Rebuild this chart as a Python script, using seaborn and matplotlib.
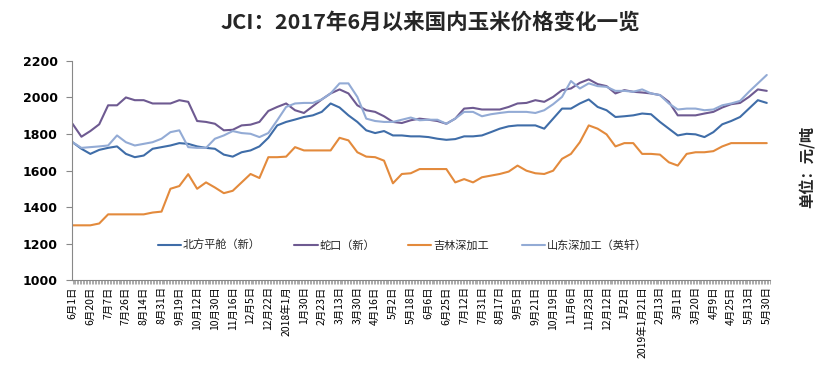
import pandas as pd
import seaborn as sns
import matplotlib.pyplot as plt
from matplotlib.ticker import MultipleLocator

# trading-day index, one sample every 6 trading days (6/1/2017 .. 5/30/2019)
day_idx = list(range(0, 469, 6))

beifang = [1755, 1719, 1691, 1713, 1724, 1732, 1691, 1673, 1682, 1719, 1728, 1737, 1750, 1746, 1732, 1724,
           1719, 1687, 1676, 1700, 1710, 1732, 1779, 1847, 1866, 1879, 1893, 1902, 1921, 1967, 1945,
           1902, 1866, 1820, 1805, 1816, 1792, 1792, 1787, 1787, 1783, 1774, 1768, 1772, 1787, 1787, 1792,
           1810, 1829, 1842, 1847, 1847, 1847, 1829, 1884, 1939, 1939, 1967, 1989, 1948, 1930, 1893, 1897,
           1902, 1912, 1908, 1866, 1829, 1792, 1801, 1798, 1783, 1810, 1853, 1871, 1893, 1939, 1985, 1970]

shekou = [1856, 1785, 1816, 1853, 1957, 1957, 2000, 1985, 1985, 1967, 1967, 1967, 1985, 1976, 1871, 1866,
          1856, 1820, 1823, 1847, 1851, 1866, 1926, 1948, 1967, 1930, 1915, 1952, 1989, 2022, 2044,
          2022, 1957, 1930, 1921, 1897, 1866, 1860, 1875, 1884, 1878, 1871, 1856, 1884, 1939, 1943, 1934,
          1934, 1934, 1948, 1967, 1970, 1985, 1976, 2003, 2040, 2049, 2080, 2099, 2073, 2062, 2022, 2040,
          2031, 2027, 2022, 2013, 1976, 1902, 1902, 1902, 1912, 1921, 1945, 1963, 1970, 2003, 2044, 2036]

jilin = [1300, 1300, 1300, 1310, 1360, 1360, 1360, 1360, 1360, 1370, 1375, 1500, 1515, 1580, 1500, 1535,
         1507, 1476, 1489, 1535, 1581, 1559, 1673, 1673, 1676, 1728, 1710, 1710, 1710, 1710, 1779,
         1765, 1700, 1676, 1673, 1654, 1530, 1581, 1585, 1608, 1608, 1608, 1608, 1535, 1553, 1535, 1563,
         1572, 1581, 1594, 1627, 1599, 1585, 1581, 1599, 1664, 1691, 1755, 1847, 1829, 1798, 1732, 1750,
         1750, 1691, 1691, 1687, 1645, 1627, 1691, 1700, 1700, 1706, 1732, 1750, 1750, 1750, 1750, 1750]

shandong = [1755, 1724, 1728, 1732, 1737, 1792, 1755, 1737, 1746, 1755, 1774, 1810, 1820, 1728, 1724, 1724,
            1774, 1792, 1816, 1805, 1801, 1783, 1805, 1875, 1948, 1967, 1970, 1970, 1989, 2022, 2077,
            2077, 2003, 1884, 1871, 1866, 1866, 1878, 1890, 1875, 1878, 1878, 1856, 1884, 1921, 1921, 1897,
            1908, 1915, 1921, 1921, 1921, 1915, 1930, 1963, 2003, 2090, 2049, 2077, 2062, 2058, 2036, 2036,
            2031, 2044, 2022, 2013, 1967, 1934, 1939, 1939, 1930, 1934, 1957, 1967, 1981, 2031, 2077, 2123]

series_names = ["北方平舱（新）", "蛇口（新）", "吉林深加工", "山东深加工（英轩）"]
series_colors = ["#3F6DA8", "#6E5A91", "#E38A3C", "#93ABD5"]

tick_labels = ["6月1日", "6月20日", "7月7日", "7月26日", "8月14日", "8月31日", "9月19日", "10月12日",
               "10月30日", "11月16日", "12月5日", "12月22日", "2018年1月", "1月30日", "2月23日", "3月13日",
               "3月30日", "4月16日", "5月2日", "5月18日", "6月6日", "6月25日", "7月12日", "7月31日",
               "8月17日", "9月5日", "9月21日", "10月19日", "11月6日", "11月23日", "12月12日", "1月2日",
               "2019年1月21日", "2月13日", "3月1日", "3月20日", "4月9日", "4月25日", "5月13日", "5月30日"]

frames = []
for name, vals in zip(series_names, [beifang, shekou, jilin, shandong]):
    frames.append(pd.DataFrame({"idx": day_idx, "price": vals, "series": name}))
df = pd.concat(frames, ignore_index=True)

sns.set_style("white")
plt.rcParams["font.family"] = ["Noto Sans CJK SC", "DejaVu Sans"]

fig = plt.figure(figsize=(8.25, 3.76), dpi=100)
ax = fig.add_axes([0.087, 0.255, 0.846, 0.583])

sns.lineplot(data=df, x="idx", y="price", hue="series", hue_order=series_names,
             palette=series_colors, linewidth=1.5, ax=ax)

ax.set_ylim(1000, 2200)
ax.set_xlim(-0.5, 470)
ax.set_yticks(range(1000, 2201, 200))
ax.set_yticklabels([str(v) for v in range(1000, 2201, 200)], fontsize=9,
                   fontweight="bold", family="DejaVu Sans")
ax.set_xticks(range(0, 469, 12))
ax.set_xticklabels(tick_labels, rotation=90, fontsize=7.5, va="top", ha="center")
ax.xaxis.set_minor_locator(MultipleLocator(1))
ax.tick_params(axis="x", which="both", direction="out", length=3, width=0.5,
               colors="#888888", labelcolor="black", pad=1.5, bottom=True)
ax.tick_params(axis="y", direction="out", length=4, width=0.8, colors="#888888",
               labelcolor="black", pad=6, left=True)
ax.set_xlabel("")
ax.set_ylabel("")
for side in ["top", "right"]:
    ax.spines[side].set_visible(False)
for side in ["left", "bottom"]:
    ax.spines[side].set_color("#888888")
    ax.spines[side].set_linewidth(0.8)

sns.move_legend(ax, "center", bbox_to_anchor=(0.474, 0.16), ncol=4, frameon=False,
                title=None, fontsize=8, handlelength=2.1, handletextpad=0.15,
                columnspacing=3.0)

fig.text(0.522, 0.94, "JCI：2017年6月以来国内玉米价格变化一览", ha="center", va="center",
         fontsize=15.5, fontweight="bold")
fig.text(0.979, 0.556, "单位：元/吨", rotation=90, ha="center", va="center",
         fontsize=11, fontweight="bold")

fig.savefig("out.png", dpi=100)
